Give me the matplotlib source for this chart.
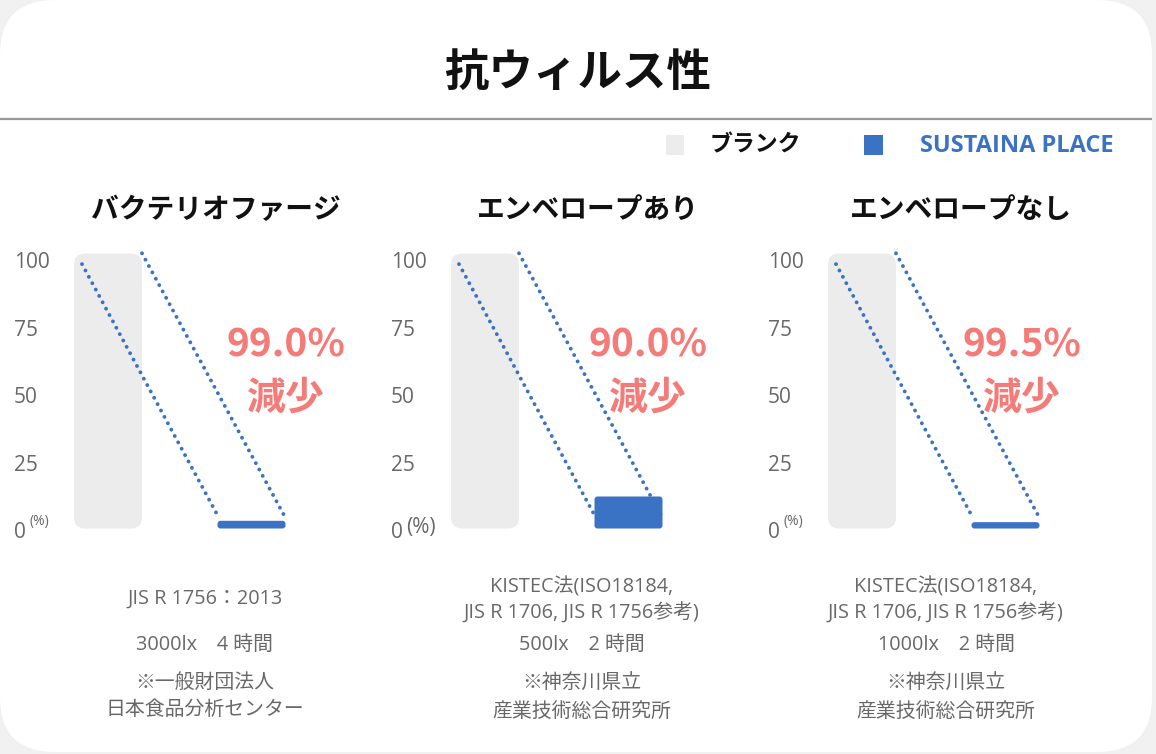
import matplotlib
matplotlib.use("Agg")
import matplotlib.pyplot as plt
from matplotlib.patches import FancyBboxPatch, Rectangle
from matplotlib import transforms

plt.rcParams['font.family'] = ['Noto Sans CJK JP', 'DejaVu Sans']
LATIN = ['Open Sans', 'Noto Sans CJK JP', 'DejaVu Sans']

# ---- data ----
title = "抗ウィルス性"
legend_labels = ["ブランク", "SUSTAINA PLACE"]
panel_titles = ["バクテリオファージ", "エンベロープあり", "エンベロープなし"]
blank_values = [100, 100, 100]
sustaina_values = [1.0, 10.0, 0.5]
tick_values = [0, 25, 50, 75, 100]
notes = [
    ["JIS R 1756：2013", "3000lx　4 時間", "※一般財団法人", "日本食品分析センター"],
    ["KISTEC法(ISO18184,", "JIS R 1706, JIS R 1756参考)", "500lx　2 時間",
     "※神奈川県立", "産業技術総合研究所"],
    ["KISTEC法(ISO18184,", "JIS R 1706, JIS R 1756参考)", "1000lx　2 時間",
     "※神奈川県立", "産業技術総合研究所"],
]

# ---- layout / style ----
W, H = 1156, 754
GRAY = "#ECECEC"
BLUE = "#3A72C4"
PINK = "#F47B78"
TXT = "#686868"

panel_x0 = [74, 451, 828]          # left edge of the blank bar (px)
pct_x = [286, 648, 1022]
title_x = [216, 588, 961]
note_x = [205, 582, 946]
note_y = [[599, 645, 683, 710], [587, 613, 645, 684, 712], [587, 613, 645, 684, 712]]
small_unit = [True, False, True]

ZERO_Y = 526.0     # pixel of value 0
PX_Y = 2.7         # pixels per unit
PX_X = 143.5       # pixels between the two bars
PAD_PX = 2.5

fig = plt.figure(figsize=(W / 100, H / 100), dpi=100, facecolor="#F1F1F1")
bg = fig.add_axes([0, 0, 1, 1])
bg.set_xlim(0, W)
bg.set_ylim(H, 0)
bg.axis("off")

bg.add_patch(FancyBboxPatch((0, 0), 1152, 752, boxstyle="round,pad=0,rounding_size=55",
                            fc="white", ec="none"))
bg.plot([0, 1152], [119, 119], color="#999999", lw=1.6, solid_capstyle="butt")
bg.text(578, 73, title, ha="center", va="center", fontsize=32, fontweight="bold", color="#111111")

# legend
bg.add_patch(Rectangle((666, 135), 18, 20, fc=GRAY, ec="none"))
bg.text(710, 145, legend_labels[0], ha="left", va="center", fontsize=16.5,
        fontweight="bold", color="#111111")
bg.add_patch(Rectangle((864, 135), 19, 20, fc=BLUE, ec="none"))
bg.text(920, 146, legend_labels[1], ha="left", va="center", fontsize=17,
        fontweight="bold", color=BLUE, family=LATIN)

ax_left_px, ax_w_px = 65, 330
ax_top_px, ax_bot_px = 230, 545
bar_w = (68 - 2 * PAD_PX) / PX_X
pad = PAD_PX / PX_X
aspect = PX_X / PX_Y

for i in range(3):
    x0 = panel_x0[i]
    L = x0 - ax_left_px
    ax = fig.add_axes([L / W, 1 - ax_bot_px / H, ax_w_px / W, (ax_bot_px - ax_top_px) / H])
    ax.set_facecolor("none")
    c0 = x0 + 34
    ax.set_xlim((L - c0) / PX_X, (L + ax_w_px - c0) / PX_X)
    ax.set_ylim((ZERO_Y - ax_bot_px) / PX_Y, (ZERO_Y - ax_top_px) / PX_Y)
    ax.axis("off")

    b = blank_values[i]
    s = sustaina_values[i]
    ax.add_patch(FancyBboxPatch((0 - bar_w / 2, 0), bar_w, b,
                                boxstyle="round,pad=%f,rounding_size=%f" % (pad, 11 / PX_X),
                                mutation_aspect=aspect, fc=GRAY, ec="none", zorder=1))
    ax.add_patch(FancyBboxPatch((1 - bar_w / 2, 0), bar_w, s,
                                boxstyle="round,pad=%f,rounding_size=%f" % (pad, 3 / PX_X),
                                mutation_aspect=aspect, fc=BLUE, ec="none", zorder=3))
    edge = bar_w / 2 + pad
    dot = dict(color=BLUE, lw=2.8, linestyle=(0, (0.01, 1.85)), dash_capstyle="round", zorder=2)
    ax.plot([-edge + 8 / PX_X, 1 - edge], [b - 3, 4], **dot)
    ax.plot([edge, 1 + edge], [b + 1, 3], **dot)

    trans = transforms.blended_transform_factory(bg.transData, ax.transData)
    for v in tick_values:
        ax.text(x0 - 60, v - 1.5, str(v), transform=trans, ha="left", va="center_baseline",
                fontsize=15, color=TXT, family=LATIN)
    if small_unit[i]:
        bg.text(x0 - 45, 521, "(%)", ha="left", va="center", fontsize=10, color=TXT, family=LATIN)
    else:
        bg.text(x0 - 45, 528, "(%)", ha="left", va="center", fontsize=15, color=TXT, family=LATIN)

    pct = "%.1f%%" % ((1 - s / b) * 100)
    bg.text(pct_x[i], 345, pct, ha="center", va="center", fontsize=28,
            fontweight="bold", color=PINK)
    bg.text(pct_x[i], 398, "減少", ha="center", va="center", fontsize=28,
            fontweight="bold", color=PINK)

    bg.text(title_x[i], 210, panel_titles[i], ha="center", va="center", fontsize=20,
            fontweight="bold", color="#111111")
    for line, y in zip(notes[i], note_y[i]):
        bg.text(note_x[i], y, line, ha="center", va="center", fontsize=14.3, color=TXT,
                family=LATIN)

fig.savefig("out.png", dpi=100, facecolor=fig.get_facecolor())
